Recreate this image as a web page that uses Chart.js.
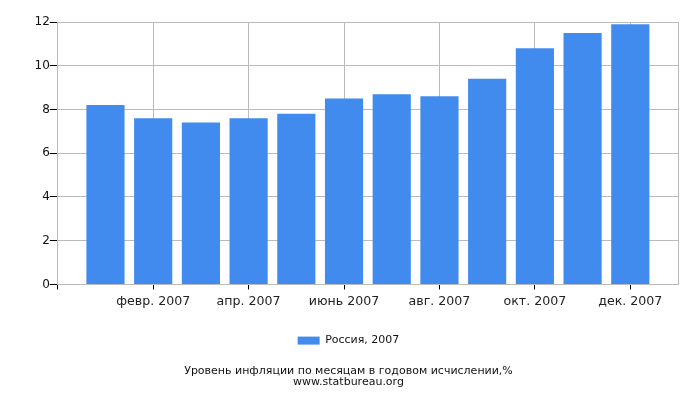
<!DOCTYPE html>
<html>
<head>
<meta charset="utf-8">
<script src="https://cdn.jsdelivr.net/npm/chart.js@4"></script>
<style>
  html, body { margin: 0; padding: 0; background: #fff; }
  #wrap { width: 700px; height: 400px; }
</style>
</head>
<body>
<div id="wrap"><canvas id="inflChart"></canvas></div>
<script>
// months of 2007
const months = ["янв. 2007", "февр. 2007", "март 2007", "апр. 2007", "май 2007", "июнь 2007",
  "июль 2007", "авг. 2007", "сент. 2007", "окт. 2007", "нояб. 2007", "дек. 2007"];
// inflation, % year on year
const russia2007 = [8.2, 7.6, 7.4, 7.6, 7.8, 8.5, 8.7, 8.6, 9.4, 10.8, 11.5, 11.9];
const yTicks = [0, 2, 4, 6, 8, 10, 12];
const seriesName = "Россия, 2007";
const titleLines = ["Уровень инфляции по месяцам в годовом исчислении,%", "www.statbureau.org"];

Chart.defaults.font.family = "'DejaVu Sans', sans-serif";
Chart.defaults.font.size = 12;
Chart.defaults.color = "#222";

// bars sit at month index 1..12, axis runs 0..13
let points = [];
russia2007.forEach((v, i) => {
    points.push({ x: i + 1, y: v });
});

const gridCol = "#bbbbbb";

new Chart(document.getElementById("inflChart"), {
    type: "bar",
    data: {
        datasets: [{
            label: seriesName,
            data: points,
            backgroundColor: "#418bee",
            borderWidth: 0,
            categoryPercentage: 1,
            barPercentage: 0.8
        }]
    },
    options: {
        responsive: true,
        maintainAspectRatio: false,
        animation: false,
        layout: { padding: { left: 19, right: 22, top: 22, bottom: 9 } },
        scales: {
            x: {
                type: "linear",
                min: 0,
                max: months.length + 1,
                offset: false,
                border: { color: gridCol },
                grid: {
                    offset: false,
                    color: c => (c.tick && (c.tick.value % 2 === 0 && c.tick.value > 0 || c.tick.value === months.length + 1)) ? gridCol : "rgba(0,0,0,0)",
                    tickColor: c => (c.tick && c.tick.value % 2 === 0 && c.tick.value <= months.length) ? "#000" : "rgba(0,0,0,0)",
                    tickLength: 5
                },
                ticks: {
                    stepSize: 1,
                    autoSkip: false,
                    maxRotation: 0,
                    padding: 5,
                    color: "#222",
                    font: { size: 12.6 },
                    callback: v => (v % 2 === 0 && v >= 1 && v <= months.length) ? months[v - 1] : ""
                },
                afterFit: axis => { axis.height += 6.5; }
            },
            y: {
                min: 0,
                max: 12,
                border: { color: gridCol },
                afterBuildTicks: axis => { axis.ticks = yTicks.map(v => ({ value: v })); },
                afterFit: axis => { axis.width += 15.5; },
                grid: { color: gridCol, tickColor: "#000", tickLength: 8 },
                ticks: { padding: 0, color: "#111" }
            }
        },
        plugins: {
            legend: {
                position: "bottom",
                labels: { boxWidth: 22, boxHeight: 8, padding: 14, color: "#111", font: { size: 11 } }
            },
            title: {
                display: true,
                position: "bottom",
                text: titleLines,
                color: "#111",
                font: { size: 11, weight: "normal", lineHeight: 0.95 },
                padding: { top: 10, bottom: 4 }
            },
            tooltip: { enabled: false }
        }
    }
});
</script>
</body>
</html>
